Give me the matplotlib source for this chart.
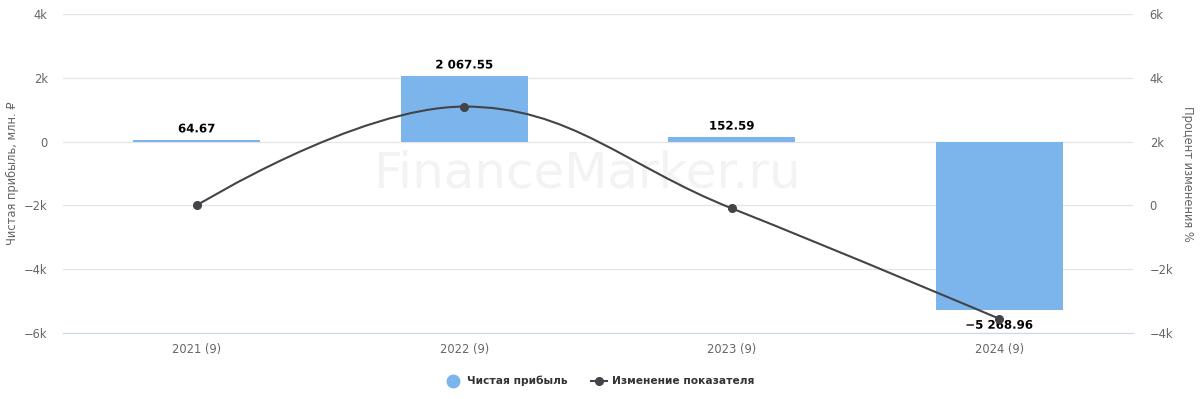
import numpy as np
import matplotlib
matplotlib.use("Agg")
import matplotlib.pyplot as plt
from matplotlib.lines import Line2D
from matplotlib.path import Path
from matplotlib.patches import PathPatch
import matplotlib.patheffects as pe

plt.rcParams['font.family'] = ['DejaVu Sans', 'Noto Sans']

# ---- data ----
categories = ["2021 (9)", "2022 (9)", "2023 (9)", "2024 (9)"]
net_profit = [64.67, 2067.55, 152.59, -5268.96]
pct_change = [0.0, 3097.1, -92.62, -3553.1]
left_ticks = [-6000, -4000, -2000, 0, 2000, 4000]
right_ticks = [-4000, -2000, 0, 2000, 4000, 6000]

BAR_COLOR = "#7cb5ec"
LINE_COLOR = "#434348"
GRID_COLOR = "#e6e6e6"
LABEL_COLOR = "#666666"


def k_fmt(v):
    if v == 0:
        return "0"
    s = f"{abs(v) / 1000:g}k"
    return ("\u2212" + s) if v < 0 else s


def num_fmt(v):
    s = f"{abs(v):,.2f}".replace(",", " ")
    return ("\u2212" + s) if v < 0 else s


def spline_path(xs, ys, smoothing=1.5):
    # highcharts-like spline control points
    n = len(xs)
    verts = [(xs[0], ys[0])]
    codes = [Path.MOVETO]
    conts = []
    for i in range(n):
        if i == 0 or i == n - 1:
            conts.append(((xs[i], ys[i]), (xs[i], ys[i])))
            continue
        d = smoothing + 1
        lx = (smoothing * xs[i] + xs[i - 1]) / d
        ly = (smoothing * ys[i] + ys[i - 1]) / d
        rx = (smoothing * xs[i] + xs[i + 1]) / d
        ry = (smoothing * ys[i] + ys[i + 1]) / d
        if rx != lx:
            corr = (ry - ly) * (rx - xs[i]) / (rx - lx) + ys[i] - ry
            ly += corr
            ry += corr
        if ly > ys[i - 1] and ly > ys[i]:
            ly = max(ys[i - 1], ys[i]); ry = 2 * ys[i] - ly
        elif ly < ys[i - 1] and ly < ys[i]:
            ly = min(ys[i - 1], ys[i]); ry = 2 * ys[i] - ly
        if ry > ys[i + 1] and ry > ys[i]:
            ry = max(ys[i + 1], ys[i]); ly = 2 * ys[i] - ry
        elif ry < ys[i + 1] and ry < ys[i]:
            ry = min(ys[i + 1], ys[i]); ly = 2 * ys[i] - ry
        conts.append(((lx, ly), (rx, ry)))
    for i in range(1, n):
        verts += [conts[i - 1][1], conts[i][0], (xs[i], ys[i])]
        codes += [Path.CURVE4] * 3
    return Path(verts, codes)


fig = plt.figure(figsize=(12, 3.99), dpi=100)
ax = fig.add_axes([63 / 1200, 66 / 399, 1070 / 1200, 319 / 399])
x = np.arange(len(categories))

ax.bar(x, net_profit, width=0.475, color=BAR_COLOR, zorder=2)
ax.set_xlim(-0.5, len(categories) - 0.5)
ax.set_ylim(left_ticks[0], left_ticks[-1])
ax.set_yticks(left_ticks)
ax.set_yticklabels([k_fmt(v) for v in left_ticks])
ax.set_xticks(x)
ax.set_xticklabels(categories)
ax.yaxis.grid(True, color=GRID_COLOR, linewidth=1, zorder=0)
ax.set_axisbelow(True)
for s in ["top", "right", "left"]:
    ax.spines[s].set_visible(False)
ax.spines["bottom"].set_color("#ccd6eb")
ax.tick_params(axis="both", length=0, colors=LABEL_COLOR, labelsize=8.3)
ax.tick_params(axis="y", pad=11)
ax.tick_params(axis="x", pad=7)
ax.set_ylabel("Чистая прибыль, млн. ₽", color=LABEL_COLOR, fontsize=8.3, va="center")
ax.yaxis.set_label_coords(-0.0477, 0.5)

# watermark
ax.text(0.49, 0.5, "FinanceMarker.ru", transform=ax.transAxes, ha="center", va="center",
        fontsize=36, color="#f3f3f3", zorder=1)

ax2 = ax.twinx()
ax2.set_ylim(right_ticks[0], right_ticks[-1])
ax2.set_yticks(right_ticks)
ax2.set_yticklabels([k_fmt(v) for v in right_ticks])
for s in ax2.spines.values():
    s.set_visible(False)
ax2.tick_params(axis="y", length=0, colors=LABEL_COLOR, labelsize=8.3, pad=12)
ax2.set_ylabel("Процент изменения %", color=LABEL_COLOR, fontsize=8.3, rotation=270, va="center")
ax2.yaxis.set_label_coords(1.0505, 0.5)

outline = [pe.withStroke(linewidth=2.5, foreground="white")]
for xi, v in zip(x, net_profit):
    ax2.annotate(num_fmt(v), xy=(xi, v), xycoords=ax.transData,
                 xytext=(0, 3 if v >= 0 else -6.5), textcoords="offset points",
                 ha="center", va="bottom" if v >= 0 else "top",
                 fontsize=8.5, fontweight="bold", color="black", path_effects=outline, zorder=2)

ax2.add_patch(PathPatch(spline_path(list(x.astype(float)), pct_change), facecolor="none",
                        edgecolor=LINE_COLOR, linewidth=1.5, zorder=3))
ax2.plot(x, pct_change, linestyle="none", marker="o", markersize=5.5, color=LINE_COLOR, zorder=4)

handles = [
    Line2D([], [], linestyle="none", marker="o", markersize=9, color=BAR_COLOR),
    Line2D([], [], color=LINE_COLOR, linewidth=1.5, marker="o", markersize=5.5),
]
leg = fig.legend(handles, ["Чистая прибыль", "Изменение показателя"], loc="center",
                 bbox_to_anchor=(0.5, 1 - 381 / 399), ncol=2, frameon=False,
                 handlelength=1.5, columnspacing=2.2, handletextpad=0.5,
                 prop={"size": 7.7, "weight": "bold"})
for t in leg.get_texts():
    t.set_color("#333333")

fig.savefig("out.png", dpi=100)
